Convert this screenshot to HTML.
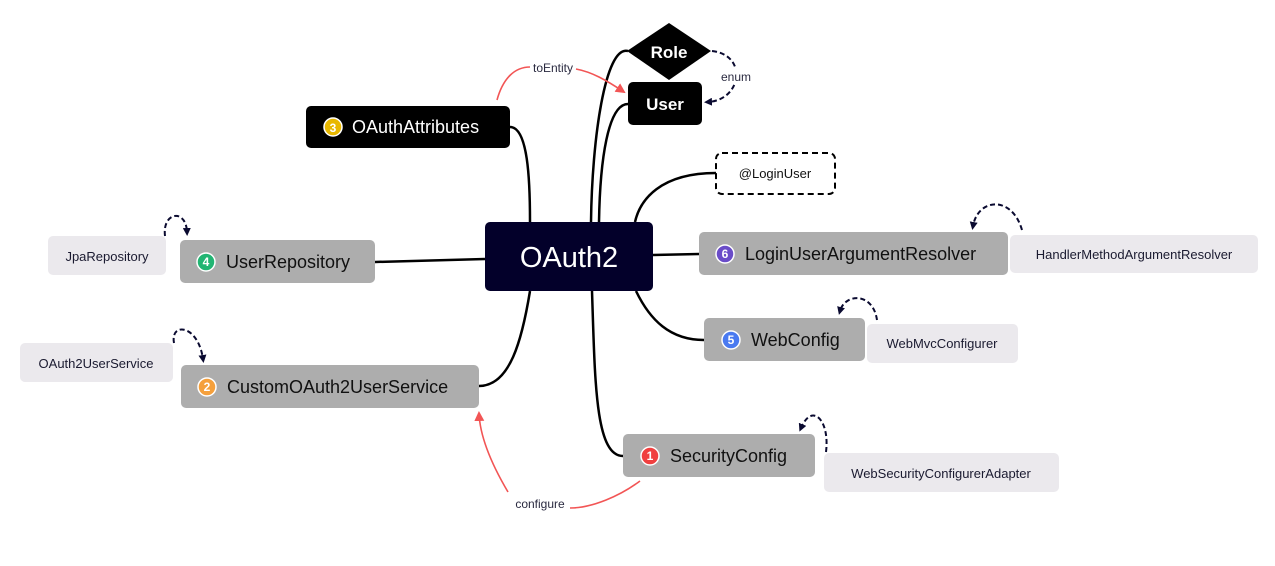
<!DOCTYPE html>
<html><head><meta charset="utf-8"><style>
body{margin:0;background:#fff;}
text{font-family:"Liberation Sans",sans-serif;}
</style></head><body>
<svg width="1275" height="561" viewBox="0 0 1275 561" xmlns="http://www.w3.org/2000/svg">
<defs>
<marker id="ad" markerWidth="8" markerHeight="8" refX="4" refY="4" orient="auto" markerUnits="userSpaceOnUse"><path d="M0,0 L8,4 L0,8 z" fill="#0a0a30"/></marker>
<marker id="ar" markerWidth="10" markerHeight="10" refX="8" refY="5" orient="auto" markerUnits="userSpaceOnUse"><path d="M0,0 L10,5 L0,10 z" fill="#f25555"/></marker>
</defs>
<g fill="none" stroke="#000" stroke-width="2.5">
<path d="M510,127 C528,127 530,180 530,222"/>
<path d="M628,51 C605,45 592,140 591,222"/>
<path d="M628,104 C608,104 600,160 599,222"/>
<path d="M716,173 C660,173 640,200 635,222"/>
<path d="M653,255 L699,254"/>
<path d="M636,291 C650,320 670,340 704,340"/>
<path d="M592,291 C595,380 595,456 623,456"/>
<path d="M375,262 L485,259"/>
<path d="M479,386 C510,386 522,340 530,291"/>
</g>
<g fill="none" stroke="#f25555" stroke-width="1.6">
<path d="M497,100 C503,78 515,67 530,67"/>
<path d="M576,69 C592,72 606,80 624,92" marker-end="url(#ar)"/>
<path d="M640,481 C620,496 592,508 570,508"/>
<path d="M508,492 C495,470 480,440 479,413" marker-end="url(#ar)"/>
</g>
<text x="553" y="72" font-size="12" fill="#2a2a40" text-anchor="middle">toEntity</text>
<text x="540" y="508" font-size="12" fill="#2a2a40" text-anchor="middle">configure</text>
<g fill="none" stroke="#0a0a30" stroke-width="2" stroke-dasharray="5,3">
<path d="M712,51 C748,55 742,100 708,102" marker-end="url(#ad)"/>
<path d="M165,236 C162,212 186,208 187,232" marker-end="url(#ad)"/>
<path d="M174,343 C170,322 198,324 203,359" marker-end="url(#ad)"/>
<path d="M1022,230 C1012,195 978,198 973,226" marker-end="url(#ad)"/>
<path d="M877,320 C873,292 845,293 840,311" marker-end="url(#ad)"/>
<path d="M826,452 C830,420 812,402 801,428" marker-end="url(#ad)"/>
</g>
<rect x="718" y="69" width="36" height="14" fill="#fff"/>
<text x="736" y="81" font-size="12" fill="#2a2a40" text-anchor="middle">enum</text>
<rect x="485" y="222" width="168" height="69" rx="5" fill="#03002a"/>
<text x="569" y="267" font-size="29" fill="#fff" text-anchor="middle">OAuth2</text>
<rect x="306" y="106" width="204" height="42" rx="5" fill="#000"/>
<circle cx="333" cy="127" r="9" fill="#e8b800" stroke="#fff" stroke-width="1.5"/>
<text x="333" y="132" font-size="12" font-weight="bold" fill="#fff" text-anchor="middle">3</text>
<text x="352" y="133" font-size="18" fill="#fff">OAuthAttributes</text>
<polygon points="669,23 711,51 669,80 627,51" fill="#000"/>
<text x="669" y="58" font-size="17" font-weight="bold" fill="#fff" text-anchor="middle">Role</text>
<rect x="628" y="82" width="74" height="43" rx="5" fill="#000"/>
<text x="665" y="110" font-size="17" font-weight="bold" fill="#fff" text-anchor="middle">User</text>
<rect x="716" y="153" width="119" height="41" rx="6" fill="#fff" stroke="#000" stroke-width="2" stroke-dasharray="6,4"/>
<text x="775" y="178" font-size="13" fill="#111" text-anchor="middle">@LoginUser</text>
<g fill="#adadad">
<rect x="699" y="232" width="309" height="43" rx="5"/>
<rect x="704" y="318" width="161" height="43" rx="5"/>
<rect x="623" y="434" width="192" height="43" rx="5"/>
<rect x="180" y="240" width="195" height="43" rx="5"/>
<rect x="181" y="365" width="298" height="43" rx="5"/>
</g>
<g fill="#ebe9ed">
<rect x="1010" y="235" width="248" height="38" rx="5"/>
<rect x="867" y="324" width="151" height="39" rx="5"/>
<rect x="824" y="453" width="235" height="39" rx="5"/>
<rect x="48" y="236" width="118" height="39" rx="5"/>
<rect x="20" y="343" width="153" height="39" rx="5"/>
</g>
<g font-size="13" fill="#1a1a30" text-anchor="middle">
<text x="1134" y="259">HandlerMethodArgumentResolver</text>
<text x="942" y="348">WebMvcConfigurer</text>
<text x="941" y="478">WebSecurityConfigurerAdapter</text>
<text x="107" y="261">JpaRepository</text>
<text x="96" y="368">OAuth2UserService</text>
</g>
<g stroke="#fff" stroke-width="1.5">
<circle cx="725" cy="254" r="9" fill="#6a4cc8"/>
<circle cx="731" cy="340" r="9" fill="#4a7af0"/>
<circle cx="650" cy="456" r="9" fill="#f04040"/>
<circle cx="206" cy="262" r="9" fill="#22b573"/>
<circle cx="207" cy="387" r="9" fill="#f5a03c"/>
</g>
<g font-size="12" font-weight="bold" fill="#fff" text-anchor="middle">
<text x="725" y="258">6</text>
<text x="731" y="344">5</text>
<text x="650" y="460">1</text>
<text x="206" y="266">4</text>
<text x="207" y="391">2</text>
</g>
<g font-size="18" fill="#111">
<text x="745" y="260">LoginUserArgumentResolver</text>
<text x="751" y="346">WebConfig</text>
<text x="670" y="462">SecurityConfig</text>
<text x="226" y="268">UserRepository</text>
<text x="227" y="393">CustomOAuth2UserService</text>
</g>
</svg>
</body></html>
